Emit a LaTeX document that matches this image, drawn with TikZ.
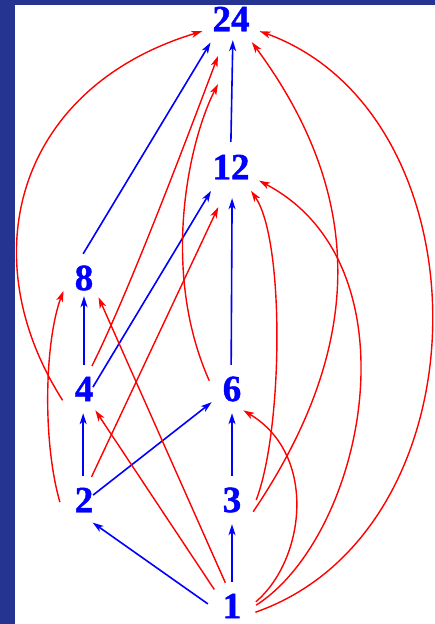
\documentclass[tikz,border=0pt]{standalone}
\usepackage{fontspec}
\setmainfont{Liberation Serif}
\newfontfamily\numfont[BoldFeatures={FakeBold=1.2}]{Liberation Serif}
\usetikzlibrary{arrows.meta}
\definecolor{framebg}{RGB}{37,52,145}
\tikzset{
  num/.style={circle, inner sep=0pt, minimum size=48pt, text=blue,
    font=\numfont\fontsize{37}{40}\selectfont\bfseries},
  bignum/.style={num, minimum size=62pt},
  cover/.style={-{Stealth[length=11pt, width=7pt, inset=3pt]}, blue, line width=1.6pt},
  trans/.style={-{Stealth[length=11pt, width=7pt, inset=3pt]}, red, line width=1.4pt},
}

\begin{document}
\begin{tikzpicture}[x=1pt, y=-1pt]

  % Frame
  \useasboundingbox (0,0) rectangle (435,624);
  \fill[framebg] (0,0) rectangle (435,624);
  \fill[white] (15,5) rectangle (435,624);

  % Divisors of 24
  \node[bignum] (n24) at (231,19) {24};
  \node[bignum] (n12) at (231,167) {12};
  \node[num] (n8) at (84,278) {8};
  \node[num] (n4) at (84,389) {4};
  \node[num] (n6) at (232,389) {6};
  \node[num] (n2) at (84,500) {2};
  \node[num] (n3) at (232,500) {3};
  \node[num] (n1) at (232,606) {1};

  % Covering relations
  \draw[cover] (n1.175) -- (n2.-69);
  \draw[cover] (n1.90) -- (n3.-90);
  \draw[cover] (n2.92) -- (n4.-92);
  \draw[cover, shorten <=-14pt] (n2.34) -- (n6.213);
  \draw[cover] (n3.90) -- (n6.-90);
  \draw[cover, shorten >=-6pt] (n4.90) -- (n8.-90);
  \draw[cover, shorten <=-17pt] (n4.43) -- (n12.230);
  \draw[cover] (n6.92) -- (n12.-88);
  \draw[cover] (n8.92) -- (n24.229);
  \draw[cover, shorten <=-6pt, shorten >=-10pt] (n12.90) -- (n24.-87);

  % The other divisibilities
  \draw[trans] (n1.137) -- (n4.-62);
  \draw[trans] (n1.106) -- (n8.-53);
  \draw[trans] (n1.10) .. controls (305,560) and (318,455) .. (n6.-62);
  \draw[trans] (n1.2) .. controls (365,535) and (420,265) .. (n12.-26);
  \draw[trans] (n1.-15) .. controls (490,530) and (490,115) .. (n24.-23);
  \draw[trans] (n2.185) .. controls (42,440) and (45,340) .. (n8.212);
  \draw[trans, shorten >=11pt] (n2.72) -- (n12.255);
  \draw[trans] (n3.0) .. controls (283,430) and (285,240) .. (n12.-50);
  \draw[trans] (n3.-29) .. controls (365,346) and (366,197) .. (n24.-48);
  \draw[trans] (n4.208) .. controls (-30,255) and (18,87) .. (n24.203);
  \draw[trans, shorten >=8pt] (n4.71) .. controls (130,290) and (190,130) .. (n24.251);
  \draw[trans] (n6.160) .. controls (160,270) and (189,141) .. ([xshift=-13pt, yshift=-65pt]n24.center);

\end{tikzpicture}
\end{document}
